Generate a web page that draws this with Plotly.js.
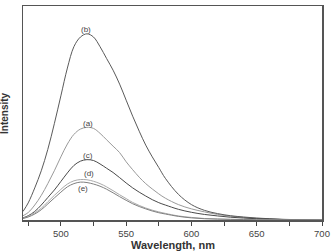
<!DOCTYPE html>
<html>
<head>
<meta charset="utf-8">
<script src="https://cdn.plot.ly/plotly-3.0.1.min.js"></script>
<style>
  html, body { margin: 0; padding: 0; background: #fff; }
  #chart { width: 334px; height: 252px; }
</style>
</head>
<body>
<div id="chart"></div>
<script>
// Emission wavelength grid (nm)
const wavelength = [471, 475, 480, 485, 490, 495, 500, 505, 510, 515, 520, 525, 530, 535, 540, 545, 550, 555, 560, 565, 570, 575, 580, 590, 600, 610, 620, 630, 640, 650, 660, 670, 680, 700];

// Fluorescence intensity (arbitrary units) for each sample
const seriesA = [20, 35, 70, 115, 170, 230, 295, 355, 400, 425, 433, 428, 405, 375, 345, 315, 272, 235, 200, 170, 145, 122, 102, 72, 52, 38, 26, 18, 12, 8, 5, 3, 2, 0];
const seriesB = [40, 80, 150, 230, 330, 450, 580, 710, 810, 855, 870, 855, 810, 755, 700, 635, 560, 485, 415, 350, 295, 245, 195, 120, 72, 45, 30, 20, 14, 9, 6, 3, 2, 0];
const seriesC = [10, 20, 40, 70, 105, 140, 180, 220, 255, 275, 282, 278, 262, 242, 222, 198, 173, 150, 130, 112, 95, 81, 70, 50, 36, 26, 19, 13, 9, 6, 4, 2, 1, 0];
const seriesD = [8, 17, 33, 55, 85, 115, 143, 168, 183, 189, 188, 181, 170, 155, 137, 118, 100, 82, 68, 56, 46, 38, 31, 19, 12, 7, 5, 3, 2, 1, 1, 0, 0, 0];
const seriesE = [7, 14, 28, 48, 75, 103, 130, 155, 170, 177, 175, 168, 158, 144, 127, 109, 92, 76, 63, 52, 42, 34, 28, 17, 10, 6, 4, 3, 2, 1, 1, 0, 0, 0];

const seriesNames = ['(a)', '(b)', '(c)', '(d)', '(e)'];
const seriesData = [seriesA, seriesB, seriesC, seriesD, seriesE];
const lineColors = ['#9a9a9a', '#5a5a5a', '#4a4a4a', '#aaaaaa', '#808080'];

// Curve labels placed at each peak
const labelX = [521, 519.4, 521, 521.9, 516.8];
const labelY = [452, 890, 301, 219, 146];

const FONT = 'Liberation Sans, Arial, sans-serif';

const traces = seriesData.map((ys, i) => ({
  x: wavelength,
  y: ys,
  type: 'scatter',
  mode: 'lines',
  name: seriesNames[i],
  line: { color: lineColors[i], width: 1, shape: 'spline', smoothing: 1 },
  hoverinfo: 'skip'
}));

const annotations = seriesNames.map((t, i) => ({
  x: labelX[i], y: labelY[i], xref: 'x', yref: 'y',
  text: t, showarrow: false,
  font: { family: FONT, size: 8, color: '#444' }
}));

// Axis titles positioned by hand relative to the plot frame
annotations.push({
  x: 0, y: 0.5, xref: 'paper', yref: 'paper',
  xanchor: 'center', yanchor: 'middle', xshift: -19,
  text: '<b>Intensity</b>', textangle: -90, showarrow: false,
  font: { family: FONT, size: 10, color: '#333' }
});
annotations.push({
  x: 0.5, y: 0, xref: 'paper', yref: 'paper',
  xanchor: 'center', yanchor: 'middle', yshift: -25,
  text: '<b>Wavelength, nm</b>', showarrow: false,
  font: { family: FONT, size: 11, color: '#333' }
});

const layout = {
  width: 334, height: 252,
  margin: { l: 23, r: 12, t: 6, b: 32 },
  paper_bgcolor: '#fff', plot_bgcolor: '#fff',
  showlegend: false,
  font: { family: FONT, color: '#444' },
  xaxis: {
    range: [471, 700],
    tick0: 500, dtick: 50,
    ticks: 'outside', ticklen: 4, tickwidth: 1, tickcolor: '#444',
    minor: { dtick: 25, ticks: 'outside', ticklen: 4, tickwidth: 1, tickcolor: '#444' },
    showgrid: false, zeroline: false,
    showline: true, linecolor: '#555', linewidth: 1.5, mirror: true,
    tickfont: { size: 9.5, color: '#444' }
  },
  yaxis: {
    range: [0, 1000],
    showticklabels: false, ticks: '',
    showgrid: false, zeroline: false,
    showline: true, linecolor: '#555', linewidth: 1.5, mirror: true
  },
  annotations: annotations
};

Plotly.newPlot('chart', traces, layout, { staticPlot: true, displayModeBar: false });
</script>
</body>
</html>
